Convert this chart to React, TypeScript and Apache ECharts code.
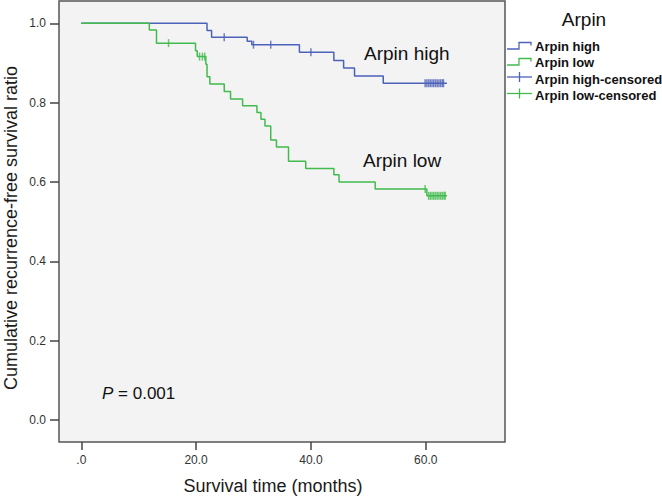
import React, { useEffect, useRef } from "react";
import * as echarts from "echarts";

// Axis ticks
const xTicks = [0, 20, 40, 60];
const yTicks = [0, 0.2, 0.4, 0.6, 0.8, 1.0];

// Arpin high: Kaplan-Meier steps (time in months, survival after event)
const highTimes = [0, 21.9, 22.7, 28.9, 29.7, 38.0, 44.0, 45.7, 47.6, 52.6, 63.7];
const highSurv = [1.0, 0.982, 0.965, 0.955, 0.946, 0.927, 0.906, 0.887, 0.867, 0.849, 0.849];
const highCensorTimes = [24.9, 30.0, 33.0, 40.0, 59.9, 60.2, 60.5, 60.8, 61.1, 61.4, 61.7, 62.0, 62.3, 62.6, 62.9, 63.1];
const highCensorSurv = [0.965, 0.946, 0.946, 0.927, 0.849, 0.849, 0.849, 0.849, 0.849, 0.849, 0.849, 0.849, 0.849, 0.849, 0.849, 0.849];

// Arpin low
const lowTimes = [0, 11.85, 13.1, 19.9, 20.2, 21.7, 21.9, 22.4, 24.9, 26.0, 28.1, 30.6, 31.3, 32.0, 33.0, 34.0, 36.1, 39.1, 44.0, 44.9, 51.2, 60.2, 63.7];
const lowSurv = [1.0, 0.983, 0.95, 0.931, 0.916, 0.897, 0.865, 0.847, 0.828, 0.809, 0.792, 0.775, 0.758, 0.741, 0.706, 0.688, 0.652, 0.634, 0.618, 0.6, 0.582, 0.565, 0.565];
const lowCensorTimes = [15.2, 20.6, 21.1, 21.5, 59.9, 60.5, 60.8, 61.1, 61.4, 61.7, 62.0, 62.3, 62.6, 62.9, 63.2, 63.4];
const lowCensorSurv = [0.95, 0.916, 0.916, 0.916, 0.582, 0.565, 0.565, 0.565, 0.565, 0.565, 0.565, 0.565, 0.565, 0.565, 0.565, 0.565];

const legendNames = ["Arpin high", "Arpin low", "Arpin high-censored", "Arpin low-censored"];

export default function App() {
  const ref = useRef<HTMLDivElement>(null);
  useEffect(() => {
    const chart = echarts.init(ref.current!, null, { renderer: "svg" });
    const FONT = "'Liberation Sans', Arial, sans-serif";
    const BLUE = "#4d62b9";
    const GREEN = "#42bb4e";
    const pair = (xs: number[], ys: number[]) => xs.map((x, i) => [x, ys[i]]);

    const rows = [46.5, 62.5, 79, 95.5];
    const legendColors = [BLUE, GREEN, BLUE, GREEN];
    const legendGraphics: any[] = [];
    rows.forEach((r, i) => {
      const c = legendColors[i];
      if (i < 2) {
        legendGraphics.push({
          type: "polyline",
          shape: { points: [[507, r + 2.5], [519, r + 2.5], [519, r - 4], [531, r - 4], [531, r - 1]] },
          style: { stroke: c, lineWidth: 1.3, fill: null },
        });
      } else {
        legendGraphics.push({
          type: "line",
          shape: { x1: 507, y1: r - 2, x2: 532, y2: r - 2 },
          style: { stroke: c, lineWidth: 1.3 },
        });
        legendGraphics.push({
          type: "line",
          shape: { x1: 519.5, y1: r - 7, x2: 519.5, y2: r + 3 },
          style: { stroke: c, lineWidth: 1.3 },
        });
      }
      legendGraphics.push({
        type: "text",
        x: 535,
        y: r,
        style: {
          text: legendNames[i],
          fontFamily: FONT,
          fontSize: 13,
          fontWeight: "bold",
          fill: "#111",
          verticalAlign: "middle",
          align: "left",
        },
      });
    });

    chart.setOption({
      animation: false,
      backgroundColor: "#ffffff",
      grid: {
        left: 59,
        top: 1,
        width: 446,
        height: 441,
        show: true,
        backgroundColor: "#f3f3f3",
        borderColor: "#555555",
        borderWidth: 1.5,
      },
      xAxis: {
        type: "value",
        min: -3.885,
        max: 73.815,
        position: "bottom",
        axisLine: { show: false, onZero: false },
        axisTick: { show: true, inside: false, customValues: xTicks, length: 8, lineStyle: { color: "#444", width: 1.5 } },
        axisLabel: {
          customValues: xTicks,
          formatter: (v: number) => (v === 0 ? ".0" : v.toFixed(1)),
          margin: 12,
          fontSize: 12,
          color: "#333",
          fontFamily: FONT,
        },
        splitLine: { show: false },
      },
      yAxis: {
        type: "value",
        min: -0.0555,
        max: 1.0562,
        position: "left",
        axisLine: { show: false, onZero: false },
        axisTick: { show: true, inside: false, customValues: yTicks, length: 9, lineStyle: { color: "#444", width: 1.5 } },
        axisLabel: {
          customValues: yTicks,
          formatter: (v: number) => v.toFixed(1),
          margin: 13,
          fontSize: 12,
          color: "#333",
          fontFamily: FONT,
        },
        splitLine: { show: false },
      },
      series: [
        {
          name: "Arpin high",
          type: "line",
          step: "end",
          data: pair(highTimes, highSurv),
          showSymbol: false,
          lineStyle: { color: BLUE, width: 1.5 },
          itemStyle: { color: BLUE },
        },
        {
          name: "Arpin low",
          type: "line",
          step: "end",
          data: pair(lowTimes, lowSurv),
          showSymbol: false,
          lineStyle: { color: GREEN, width: 1.5 },
          itemStyle: { color: GREEN },
        },
        {
          name: "Arpin high-censored",
          type: "scatter",
          data: pair(highCensorTimes, highCensorSurv),
          symbol: "rect",
          symbolSize: [1.5, 8],
          itemStyle: { color: BLUE },
        },
        {
          name: "Arpin low-censored",
          type: "scatter",
          data: pair(lowCensorTimes, lowCensorSurv),
          symbol: "rect",
          symbolSize: [1.5, 8],
          itemStyle: { color: GREEN },
        },
      ],
      graphic: [
        {
          type: "text",
          x: 273,
          y: 486,
          style: {
            text: "Survival time (months)",
            fontFamily: FONT,
            fontSize: 18,
            fill: "#1a1a1a",
            align: "center",
            verticalAlign: "middle",
          },
        },
        {
          type: "text",
          x: 11,
          y: 228,
          rotation: Math.PI / 2,
          style: {
            text: "Cumulative recurrence-free survival ratio",
            fontFamily: FONT,
            fontSize: 18,
            fill: "#1a1a1a",
            align: "center",
            verticalAlign: "middle",
          },
        },
        {
          type: "text",
          x: 102,
          y: 393,
          style: {
            text: "{i|P} = 0.001",
            fontFamily: FONT,
            fontSize: 17,
            fill: "#111",
            verticalAlign: "middle",
            rich: { i: { fontStyle: "italic", fontFamily: FONT, fontSize: 17, fill: "#111" } },
          },
        },
        {
          type: "text",
          x: 364,
          y: 53,
          style: { text: "Arpin high", fontFamily: FONT, fontSize: 19, fill: "#111", verticalAlign: "middle" },
        },
        {
          type: "text",
          x: 363,
          y: 160,
          style: { text: "Arpin low", fontFamily: FONT, fontSize: 19, fill: "#111", verticalAlign: "middle" },
        },
        {
          type: "text",
          x: 584,
          y: 19.5,
          style: { text: "Arpin", fontFamily: FONT, fontSize: 19, fill: "#111", align: "center", verticalAlign: "middle" },
        },
        ...legendGraphics,
      ],
    });
    return () => chart.dispose();
  }, []);
  return (
    <div
      ref={ref}
      style={{ position: "fixed", left: 0, top: 0, width: 662, height: 496, background: "#fff" }}
    />
  );
}
